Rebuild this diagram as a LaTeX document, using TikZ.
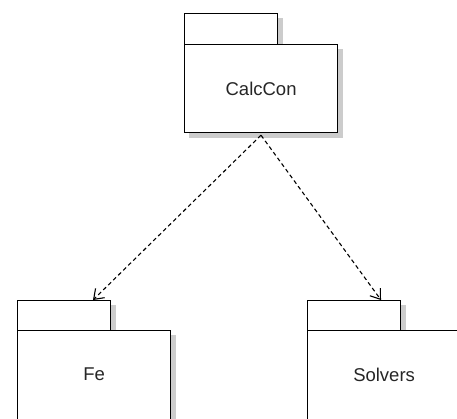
\documentclass[tikz,border=0pt]{standalone}
\usepackage{fontspec}
\setmainfont{Liberation Sans}
\usetikzlibrary{arrows.meta,calc,backgrounds}
\tikzset{
  pkgpart/.style={draw=black, line width=1.2pt, fill=white, rectangle, inner sep=0pt, anchor=north west},
  pkgtab/.style={pkgpart, minimum width=93pt, minimum height=31pt},
  pkgbody/.style={pkgpart, minimum width=153pt, minimum height=88pt,
    font=\fontsize{18.5}{22}\selectfont, text=black!85},
  pkgshade/.style={fill=black!20},
  dep/.style={draw=black, line width=1.1pt, dash pattern=on 4pt off 3pt,
    -{Straight Barb[length=9pt,width=13pt,line width=1.1pt]}}
}
\newcommand{\pkgshadow}[1]{\fill[pkgshade] ($(#1.north west)+(4.5,4.5)$) rectangle ($(#1.south east)+(4.5,4.5)$);}
\begin{document}
\begin{tikzpicture}[x=1pt,y=-1pt]
\useasboundingbox (0,0) rectangle (457,418);
\clip (0,0) rectangle (457,418);
% CalcCon package
\node[pkgtab] (calctab) at (184,13) {};
\node[pkgbody] (calc) at (184,44) {CalcCon};
% Fe package
\node[pkgtab] (fetab) at (17,300) {};
\node[pkgbody, minimum height=96pt, text depth=8pt] (fe) at (17,330) {Fe};
% Solvers package
\node[pkgtab] (soltab) at (307,300) {};
\node[pkgbody, minimum height=96pt, text depth=8pt] (sol) at (307,330) {Solvers};
% shadows
\begin{scope}[on background layer]
\pkgshadow{calctab}\pkgshadow{calc}
\pkgshadow{fetab}\pkgshadow{fe}
\pkgshadow{soltab}\pkgshadow{sol}
\end{scope}
% dependency ends
\coordinate (calcout) at ($(calc.south west)+(77,2)$);
\coordinate (fein) at ($(fetab.north west)+(76,0)$);
\coordinate (solin) at ($(soltab.north west)+(74,0)$);
\draw[dep] (calcout) -- (fein);
\draw[dep] (calcout) -- (solin);
\end{tikzpicture}
\end{document}
